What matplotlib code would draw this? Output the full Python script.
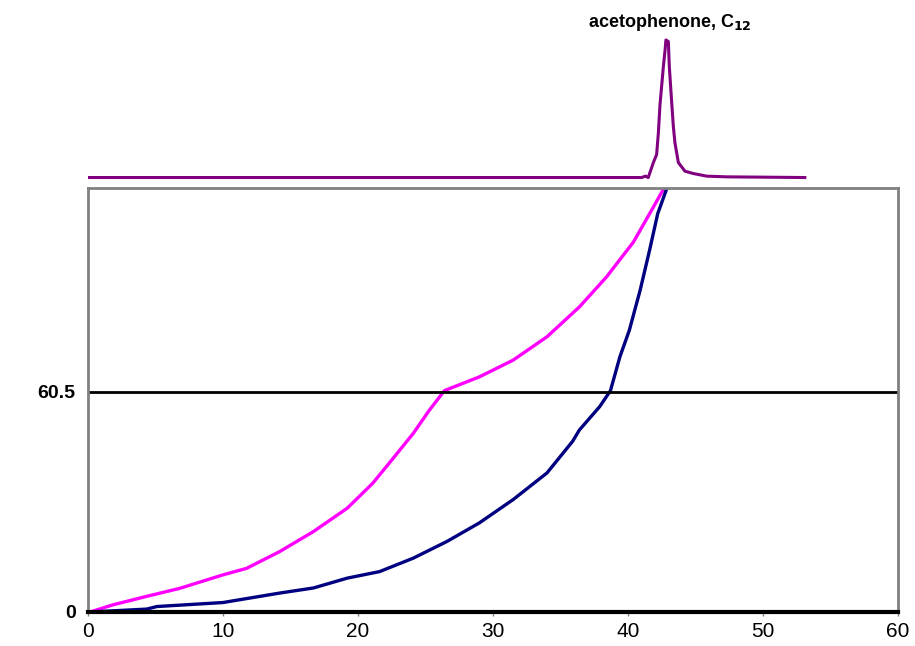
import numpy as np
import matplotlib as mpl
mpl.use("Agg")
from matplotlib import pyplot as plt

mpl.rcParams["font.family"] = ["Liberation Sans", "DejaVu Sans"]

# chromatogram trace (top strip)
chrom_x = [0.0, 41.0, 41.3, 41.5, 41.88, 42.12, 42.25, 42.37, 42.62, 42.75, 42.81, 42.99,
           43.06, 43.24, 43.36, 43.48, 43.73, 44.22, 44.84, 45.83, 47.3, 53.1]
chrom_y = [0.0, 0.0, 1.0, 0.0, 10.9, 16.7, 32.6, 53.0, 80.7, 93.0, 100.0, 98.8,
           80.7, 54.0, 37.0, 25.0, 10.9, 4.6, 2.9, 1.0, 0.5, 0.0]

# magenta curve
mag_x = [0.15, 1.88, 4.35, 6.8, 10.0, 11.75, 14.2, 16.7, 19.2, 21.1, 22.6, 24.1,
         25.3, 26.4, 29.0, 31.5, 34.0, 36.4, 38.4, 40.4, 41.6, 42.7]
mag_y = [0.0, 2.0, 4.3, 6.5, 10.2, 12.0, 16.6, 22.1, 28.5, 35.4, 42.2, 49.1,
         55.5, 60.8, 64.6, 69.2, 75.6, 83.8, 92.0, 101.6, 109.4, 116.6]

# navy curve
navy_x = [0.15, 4.35, 5.1, 10.0, 10.8, 14.2, 16.7, 19.2, 21.6, 24.1, 26.6, 29.0,
          31.5, 34.0, 35.9, 36.4, 37.9, 38.7, 39.4, 40.1, 40.9, 41.6, 42.2, 42.9]
navy_y = [0.0, 0.8, 1.5, 2.6, 3.1, 5.2, 6.6, 9.3, 11.1, 14.8, 19.4, 24.5,
          30.9, 38.2, 46.9, 50.0, 56.4, 60.8, 70.1, 77.4, 88.4, 99.4, 109.4, 116.6]

xticks = [0, 10, 20, 30, 40, 50, 60]
yticks = [0, 60.5]
ytick_labels = ["0", "60.5"]

W, H = 915, 646
fig = plt.figure(figsize=(W / 100, H / 100), dpi=100)

left, right = 88 / W, 898 / W
bot, top = (H - 612) / H, (H - 187.5) / H
ax = fig.add_axes([left, bot, right - left, top - bot])
axc = fig.add_axes([left, top, right - left, (187.5 - 20) / H])

# main plot
ax.plot(mag_x, mag_y, color="#FF00FF", lw=2.4, solid_capstyle="butt")
ax.plot(navy_x, navy_y, color="#000080", lw=2.4, solid_capstyle="butt")
ax.axhline(60.5, color="black", lw=2)
ax.set_xlim(0, 60)
ax.set_ylim(0, 116.6)
ax.set_xticks(xticks)
ax.set_xticklabels([str(t) for t in xticks], fontsize=15)
ax.set_yticks(yticks)
ax.set_yticklabels(ytick_labels, fontsize=14, fontweight="bold")
ax.tick_params(axis="x", direction="out", length=3, width=1, color="#808080", pad=4)
ax.tick_params(axis="y", length=0, pad=9)
for s in ["left", "top", "right"]:
    ax.spines[s].set_color("#808080")
    ax.spines[s].set_linewidth(2)
ax.spines["bottom"].set_color("black")
ax.spines["bottom"].set_linewidth(3)

# chromatogram strip
axc.plot(chrom_x, chrom_y, color="#800080", lw=2.2)
axc.set_xlim(0, 60)
axc.set_ylim(-7.25, 114.5)
axc.axis("off")
axc.text(43.1, 113, r"acetophenone, C$_{\mathbf{12}}$", ha="center", va="center",
         fontsize=13, fontweight="bold", clip_on=False)

fig.savefig("out.png", dpi=100)
